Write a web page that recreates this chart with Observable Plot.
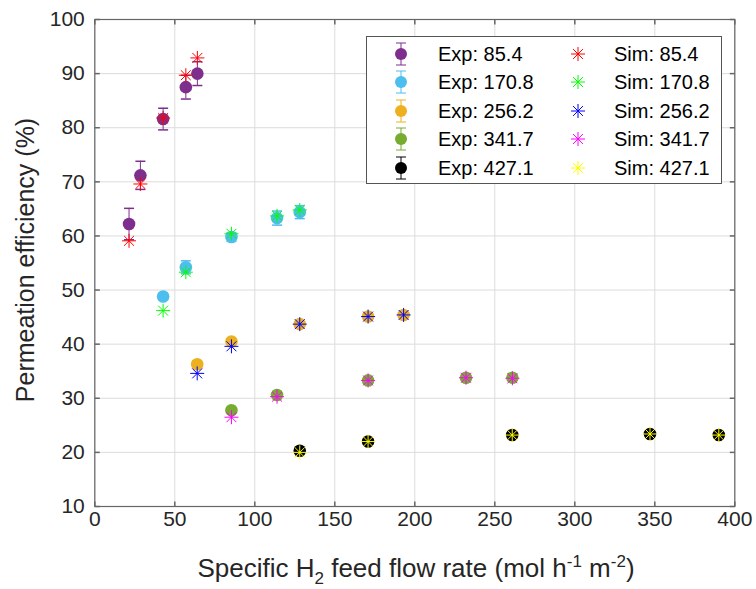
<!DOCTYPE html>
<html><head><meta charset="utf-8">
<script src="https://cdn.jsdelivr.net/npm/d3@7"></script>
<script src="https://cdn.jsdelivr.net/npm/@observablehq/plot@0.6"></script>
<style>
body{margin:0;background:#fff;}
#wrap{position:relative;width:756px;height:589px;font-family:"Liberation Sans",Arial,sans-serif;}
#legend{position:absolute;left:366px;top:36px;width:356px;height:148px;box-sizing:border-box;border:1px solid #555;background:#fff;}
#legend .t{position:absolute;font-size:20px;color:#000;line-height:20px;white-space:nowrap;}
#legend svg{position:absolute;overflow:visible;}
</style>
</head><body>
<div id="wrap"><div id="legend"></div></div>
<script>
const xTicks = [0, 50, 100, 150, 200, 250, 300, 350, 400];
const yTicks = [10, 20, 30, 40, 50, 60, 70, 80, 90, 100];
const seriesLabels = ["85.4", "170.8", "256.2", "341.7", "427.1"];
const expColors = ["#7E2F8E", "#4DBEEE", "#EDB120", "#77AC30", "#000000"];
const simColors = ["#FF0000", "#00FF00", "#0000FF", "#FF00FF", "#FFFF00"];

const x854 = [21.4, 28.5, 42.7, 56.9, 64.1];
const exp854 = [62.2, 71.2, 81.6, 87.5, 90.0];
const err854 = [2.9, 2.6, 2.0, 2.2, 2.2];
const sim854 = [59.1, 69.6, 81.8, 89.7, 92.9];

const x1708 = [42.7, 56.9, 85.4, 113.9, 128.1];
const exp1708 = [48.8, 54.2, 59.8, 63.3, 64.4];
const err1708 = [0.6, 1.2, 0.8, 1.3, 1.2];
const sim1708 = [46.2, 53.3, 60.4, 63.7, 64.8];

const x2562 = [64.0, 85.4, 128.1, 170.8, 193.0];
const exp2562 = [36.3, 40.5, 43.7, 45.1, 45.4];
const err2562 = [0.6, 0.5, 0.5, 0.5, 0.5];
const sim2562 = [34.6, 39.6, 43.7, 45.1, 45.4];

const x3417 = [85.4, 113.9, 170.8, 232.0, 261.0];
const exp3417 = [27.8, 30.6, 33.3, 33.8, 33.8];
const err3417 = [0.4, 0.4, 0.4, 0.4, 0.4];
const sim3417 = [26.5, 30.3, 33.3, 33.8, 33.7];

const x4271 = [128.1, 170.8, 260.9, 347.0, 390.0];
const exp4271 = [20.3, 22.0, 23.2, 23.4, 23.2];
const err4271 = [0.5, 0.5, 0.5, 0.5, 0.5];
const sim4271 = [20.0, 22.0, 23.2, 23.4, 23.2];

const xs = [x854, x1708, x2562, x3417, x4271];
const exps = [exp854, exp1708, exp2562, exp3417, exp4271];
const errs = [err854, err1708, err2562, err3417, err4271];
const sims = [sim854, sim1708, sim2562, sim3417, sim4271];

const series = seriesLabels.map((lab, i) => ({
  lab, ec: expColors[i], sc: simColors[i],
  exp: xs[i].map((x, j) => ({x, y: exps[i][j], e: errs[i][j]})),
  sim: xs[i].map((x, j) => ({x, y: sims[i][j]}))
}));

const rOf = s => Math.sqrt(s / Math.PI);
const asterisk = {draw(ctx, size) {
  const r = rOf(size);
  for (const a of [0, 45, 90, 135]) {
    const t = a * Math.PI / 180, dx = r * Math.cos(t), dy = r * Math.sin(t);
    ctx.moveTo(dx, dy); ctx.lineTo(-dx, -dy);
  }
}};
const hline = {draw(ctx, size) { const r = rOf(size); ctx.moveTo(-r, 0); ctx.lineTo(r, 0); }};
const tickUp = {draw(ctx, size) { const r = rOf(size); ctx.moveTo(0, 0); ctx.lineTo(0, -r); }};
const tickDown = {draw(ctx, size) { const r = rOf(size); ctx.moveTo(0, 0); ctx.lineTo(0, r); }};
const tickRight = {draw(ctx, size) { const r = rOf(size); ctx.moveTo(0, 0); ctx.lineTo(r, 0); }};
const tickLeft = {draw(ctx, size) { const r = rOf(size); ctx.moveTo(0, 0); ctx.lineTo(-r, 0); }};

const axisColor = "#666";
const marks = [
  Plot.gridX(xTicks, {stroke: "#dcdcdc", strokeOpacity: 1}),
  Plot.gridY(yTicks, {stroke: "#dcdcdc", strokeOpacity: 1}),
  Plot.frame({stroke: axisColor, strokeWidth: 1.2}),
  Plot.dot(xTicks, {x: d => d, y: () => 10, symbol: tickUp, r: 5, stroke: axisColor, fill: "none"}),
  Plot.dot(xTicks, {x: d => d, y: () => 100, symbol: tickDown, r: 5, stroke: axisColor, fill: "none"}),
  Plot.dot(yTicks, {y: d => d, x: () => 0, symbol: tickRight, r: 5, stroke: axisColor, fill: "none"}),
  Plot.dot(yTicks, {y: d => d, x: () => 400, symbol: tickLeft, r: 5, stroke: axisColor, fill: "none"}),
  Plot.axisX({ticks: xTicks, tickSize: 0, tickPadding: 5, fontSize: 21, label: null}),
  Plot.axisY({ticks: yTicks, tickSize: 0, tickPadding: 10, fontSize: 21, label: null})
];
for (const s of series) {
  marks.push(
    Plot.ruleX(s.exp, {x: "x", y1: d => d.y - d.e, y2: d => d.y + d.e, stroke: s.ec, strokeWidth: 1}),
    Plot.dot(s.exp, {x: "x", y: d => d.y + d.e, symbol: hline, r: 5, stroke: s.ec, fill: "none"}),
    Plot.dot(s.exp, {x: "x", y: d => d.y - d.e, symbol: hline, r: 5, stroke: s.ec, fill: "none"}),
    Plot.dot(s.exp, {x: "x", y: "y", r: 6.3, fill: s.ec, stroke: "none"})
  );
}
for (const s of series) {
  marks.push(Plot.dot(s.sim, {x: "x", y: "y", symbol: asterisk, r: 7, stroke: s.sc, fill: "none", strokeWidth: 1}));
}

const chart = Plot.plot({
  width: 756, height: 589,
  marginLeft: 94.3, marginRight: 21.7, marginTop: 19, marginBottom: 83,
  x: {domain: [0, 400]},
  y: {domain: [10, 100]},
  style: {fontFamily: '"Liberation Sans", Arial, sans-serif', fontSize: "21px", color: "#262626", background: "#fff"},
  marks
});

const svg = d3.select(chart);
const xl = svg.append("text").attr("x", 416).attr("y", 577).attr("text-anchor", "middle")
  .attr("font-size", 26).attr("fill", "#262626");
xl.append("tspan").text("Specific H");
xl.append("tspan").attr("dy", 7).attr("font-size", 17).text("2");
xl.append("tspan").attr("dy", -7).text(" feed flow rate (mol h");
xl.append("tspan").attr("dy", -10).attr("font-size", 17).text("-1");
xl.append("tspan").attr("dy", 10).text(" m");
xl.append("tspan").attr("dy", -10).attr("font-size", 17).text("-2");
xl.append("tspan").attr("dy", 10).text(")");

svg.append("text").attr("transform", "translate(34,260) rotate(-90)").attr("text-anchor", "middle")
  .attr("font-size", 25).attr("fill", "#262626").text("Permeation efficiency (%)");

document.getElementById("wrap").prepend(chart);

const leg = document.getElementById("legend");
const NS = "http://www.w3.org/2000/svg";
series.forEach((s, i) => {
  const cy = 17 + i * 28.4;
  const m1 = document.createElementNS(NS, "svg");
  m1.setAttribute("width", 20); m1.setAttribute("height", 30);
  m1.style.left = (34 - 10) + "px"; m1.style.top = (cy - 15) + "px";
  m1.innerHTML = `<line x1="10" x2="10" y1="4" y2="26" stroke="${s.ec}"/><line x1="5" x2="15" y1="4" y2="4" stroke="${s.ec}"/><line x1="5" x2="15" y1="26" y2="26" stroke="${s.ec}"/><circle cx="10" cy="15" r="6" fill="${s.ec}"/>`;
  leg.appendChild(m1);
  const t1 = document.createElement("div"); t1.className = "t";
  t1.style.left = "71px"; t1.style.top = (cy - 10) + "px"; t1.textContent = "Exp: " + s.lab;
  leg.appendChild(t1);
  const m2 = document.createElementNS(NS, "svg");
  m2.setAttribute("width", 20); m2.setAttribute("height", 20);
  m2.style.left = (211 - 10) + "px"; m2.style.top = (cy - 10) + "px";
  let p = "";
  for (const a of [0, 45, 90, 135]) { const t = a * Math.PI / 180, dx = 7 * Math.cos(t), dy = 7 * Math.sin(t); p += `M${10 + dx},${10 + dy}L${10 - dx},${10 - dy}`; }
  m2.innerHTML = `<path d="${p}" stroke="${s.sc}" fill="none"/>`;
  leg.appendChild(m2);
  const t2 = document.createElement("div"); t2.className = "t";
  t2.style.left = "247px"; t2.style.top = (cy - 10) + "px"; t2.textContent = "Sim: " + s.lab;
  leg.appendChild(t2);
});
</script>
</body></html>
